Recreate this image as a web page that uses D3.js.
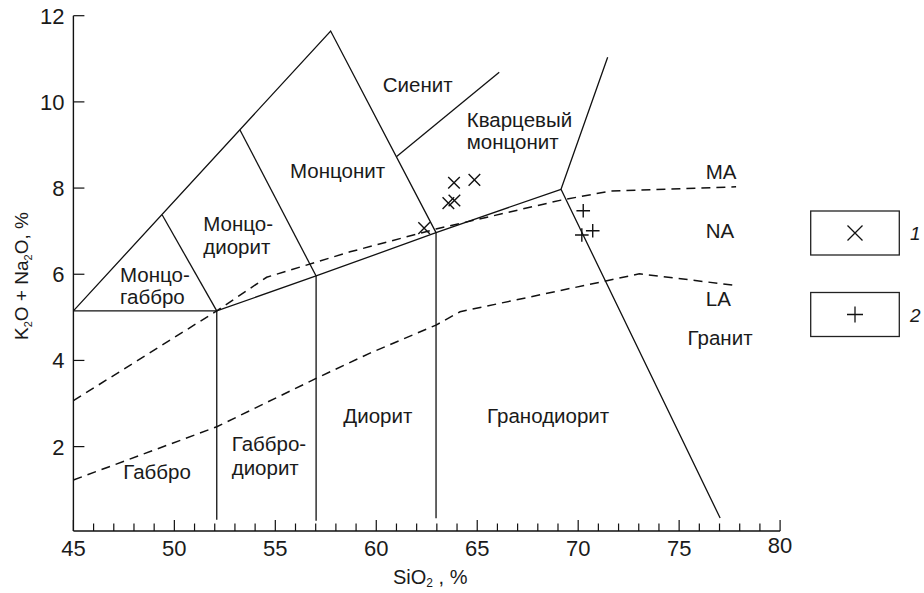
<!DOCTYPE html>
<html><head><meta charset="utf-8">
<script src="https://cdn.jsdelivr.net/npm/d3@7"></script>
<style>
body{margin:0;background:#fff}
svg{display:block}
text{font-family:"Liberation Sans",Arial,Helvetica,sans-serif;fill:#1a1a1a}
</style>
</head><body>
<svg id="chart" width="924" height="593"></svg>
<script>
// Axis ticks
const xTicks = [45, 50, 55, 60, 65, 70, 75, 80];
const xMinorTicks = d3.range(45, 81, 1);
const yTicks = [2, 4, 6, 8, 10, 12];

// Solid field boundaries, [SiO2, K2O+Na2O]
const boundaryOuter = [[45, 5.15], [57.74, 11.645], [62.96, 6.965]];
const boundaryGabbroTop = [[45, 5.15], [52.10, 5.15]];
const boundaryMonzogabbro = [[49.40, 7.375], [52.10, 5.15]];
const boundaryMonzodiorite = [[53.25, 9.348], [57.02, 5.96]];
const boundarySyenite = [[61.01, 8.73], [66.09, 10.687]];
const boundaryBase = [[52.10, 5.15], [57.02, 5.96], [62.96, 6.965], [69.15, 7.972]];
const boundaryGranite = [[71.46, 11.035], [69.15, 7.972], [77.03, 0.343]];
const boundaryV1 = [[52.10, 5.15], [52.10, 0.3]];
const boundaryV2 = [[57.02, 5.96], [57.02, 0.28]];
const boundaryV3 = [[62.96, 6.965], [62.96, 0.34]];

// Alkalinity series boundaries (dashed)
const dashedUpper = [[45, 3.066], [52.10, 5.15], [54.57, 5.93], [58.70, 6.52], [62.96, 7.05],
                     [69.15, 7.72], [71.58, 7.93], [77.82, 8.03]];
const dashedLower = [[45, 1.225], [52.10, 2.46], [57.05, 3.59], [59.69, 4.17], [62.96, 4.82],
                     [64.15, 5.13], [73.03, 6.01], [77.82, 5.74]];

// Samples
const series1 = [[63.85, 8.125], [64.86, 8.19], [63.57, 7.65], [63.87, 7.71], [62.37, 7.07]];
const series2 = [[70.25, 7.475], [70.72, 7.01], [70.18, 6.91]];

// Field names: [lines, SiO2, K2O+Na2O, line step]
const fieldLabels = [
  [["Сиенит"], 60.32, 10.24, 0],
  [["Кварцевый", "монцонит"], 64.48, 9.41, 21.5],
  [["Монцонит"], 55.73, 8.23, 0],
  [["Монцо-", "диорит"], 51.43, 7.01, 23.3],
  [["Монцо-", "габбро"], 47.31, 5.83, 22.3],
  [["Габбро"], 47.47, 1.24, 0],
  [["Габбро-", "диорит"], 52.84, 1.905, 24.3],
  [["Диорит"], 58.37, 2.54, 0],
  [["Гранодиорит"], 65.49, 2.54, 0],
  [["Гранит"], 75.42, 4.35, 0],
  [["MA"], 76.32, 8.20, 0],
  [["NA"], 76.32, 6.85, 0],
  [["LA"], 76.32, 5.27, 0]
];

const svg = d3.select("#chart");
const x = d3.scaleLinear().domain([45, 80]).range([73.4, 780.1]);
const y = d3.scaleLinear().domain([0, 12]).range([532.8, 15.7]);
const axisY = 531;
const ink = "#111";

// X axis: minor and major ticks pointing inward
const gx = svg.append("g").attr("transform", `translate(0,${axisY})`);
gx.append("line").attr("x1", x(45)).attr("x2", x(80)).attr("stroke", ink).attr("stroke-width", 1.4);
gx.selectAll("line.minor").data(xMinorTicks).join("line").attr("class", "minor")
  .attr("x1", d => x(d)).attr("x2", d => x(d)).attr("y1", 0)
  .attr("y2", d => xTicks.includes(d) ? -11 : -7.5)
  .attr("stroke", ink).attr("stroke-width", 1.2);
gx.selectAll("text").data(xTicks).join("text")
  .attr("x", d => x(d)).attr("y", d => d === 80 ? 22 : 25)
  .attr("text-anchor", "middle").attr("font-size", 22).text(d => d);

// Y axis
const gy = svg.append("g").attr("transform", `translate(${x(45)},0)`);
gy.append("line").attr("y1", axisY).attr("y2", y(12)).attr("stroke", ink).attr("stroke-width", 1.4);
gy.selectAll("line.tick").data(yTicks).join("line").attr("class", "tick")
  .attr("x1", 0).attr("x2", 11).attr("y1", d => y(d)).attr("y2", d => y(d))
  .attr("stroke", ink).attr("stroke-width", 1.2);
gy.selectAll("text").data(yTicks).join("text")
  .attr("x", -9).attr("y", d => y(d)).attr("dy", "0.36em")
  .attr("text-anchor", "end").attr("font-size", 22).text(d => d);

// Axis titles
const xt = svg.append("text").attr("x", 393).attr("y", 584).attr("font-size", 20);
xt.append("tspan").text("SiO");
xt.append("tspan").attr("font-size", 12).attr("dy", 3).text("2");
xt.append("tspan").attr("dy", -3).text(" , %");

const yt = svg.append("text").attr("transform", "translate(28,340) rotate(-90)").attr("font-size", 19);
yt.append("tspan").text("K");
yt.append("tspan").attr("font-size", 11).attr("dy", 4).text("2");
yt.append("tspan").attr("dy", -4).text("O + Na");
yt.append("tspan").attr("font-size", 11).attr("dy", 4).text("2");
yt.append("tspan").attr("dy", -4).text("O, %");

// Boundaries
const line = d3.line().x(d => x(d[0])).y(d => y(d[1]));
const solid = [boundaryOuter, boundaryGabbroTop, boundaryMonzogabbro, boundaryMonzodiorite,
  boundarySyenite, boundaryBase, boundaryGranite, boundaryV1, boundaryV2, boundaryV3];
svg.append("g").selectAll("path").data(solid).join("path")
  .attr("d", line).attr("fill", "none").attr("stroke", ink).attr("stroke-width", 1.3)
  .attr("stroke-linejoin", "miter");
svg.append("g").selectAll("path").data([dashedUpper, dashedLower]).join("path")
  .attr("d", line).attr("fill", "none").attr("stroke", ink).attr("stroke-width", 1.5)
  .attr("stroke-dasharray", "9,6");

// Field names
const lg = svg.append("g");
fieldLabels.forEach(([lines, sx, sy, step]) => {
  const t = lg.append("text").attr("x", x(sx)).attr("y", y(sy)).attr("font-size", 20.5);
  lines.forEach((s, i) => t.append("tspan").attr("x", x(sx)).attr("dy", i ? step : 0).text(s));
});

// Markers
const crossPath = r => `M${-r},${-r}L${r},${r}M${-r},${r}L${r},${-r}`;
const plusPath = r => `M${-r},0H${r}M0,${-r}V${r}`;
svg.append("g").selectAll("path").data(series1).join("path")
  .attr("transform", d => `translate(${x(d[0])},${y(d[1])})`)
  .attr("d", crossPath(5.8)).attr("stroke", ink).attr("stroke-width", 1.4).attr("fill", "none");
svg.append("g").selectAll("path").data(series2).join("path")
  .attr("transform", d => `translate(${x(d[0])},${y(d[1])})`)
  .attr("d", plusPath(6.8)).attr("stroke", ink).attr("stroke-width", 1.4).attr("fill", "none");

// Legend
const legendItems = [{ sym: crossPath(7.5), label: "1", y0: 211 }, { sym: plusPath(8), label: "2", y0: 292.5 }];
const leg = svg.append("g");
legendItems.forEach(it => {
  leg.append("rect").attr("x", 810.7).attr("y", it.y0).attr("width", 88.6).attr("height", 44)
    .attr("fill", "none").attr("stroke", "#222").attr("stroke-width", 1.3);
  leg.append("path").attr("transform", `translate(855,${it.y0 + 22})`).attr("d", it.sym)
    .attr("stroke", ink).attr("stroke-width", 1.3).attr("fill", "none");
  leg.append("text").attr("x", 910).attr("y", it.y0 + 29).attr("font-size", 19)
    .attr("font-style", "italic").text(it.label);
});
</script>
</body></html>
